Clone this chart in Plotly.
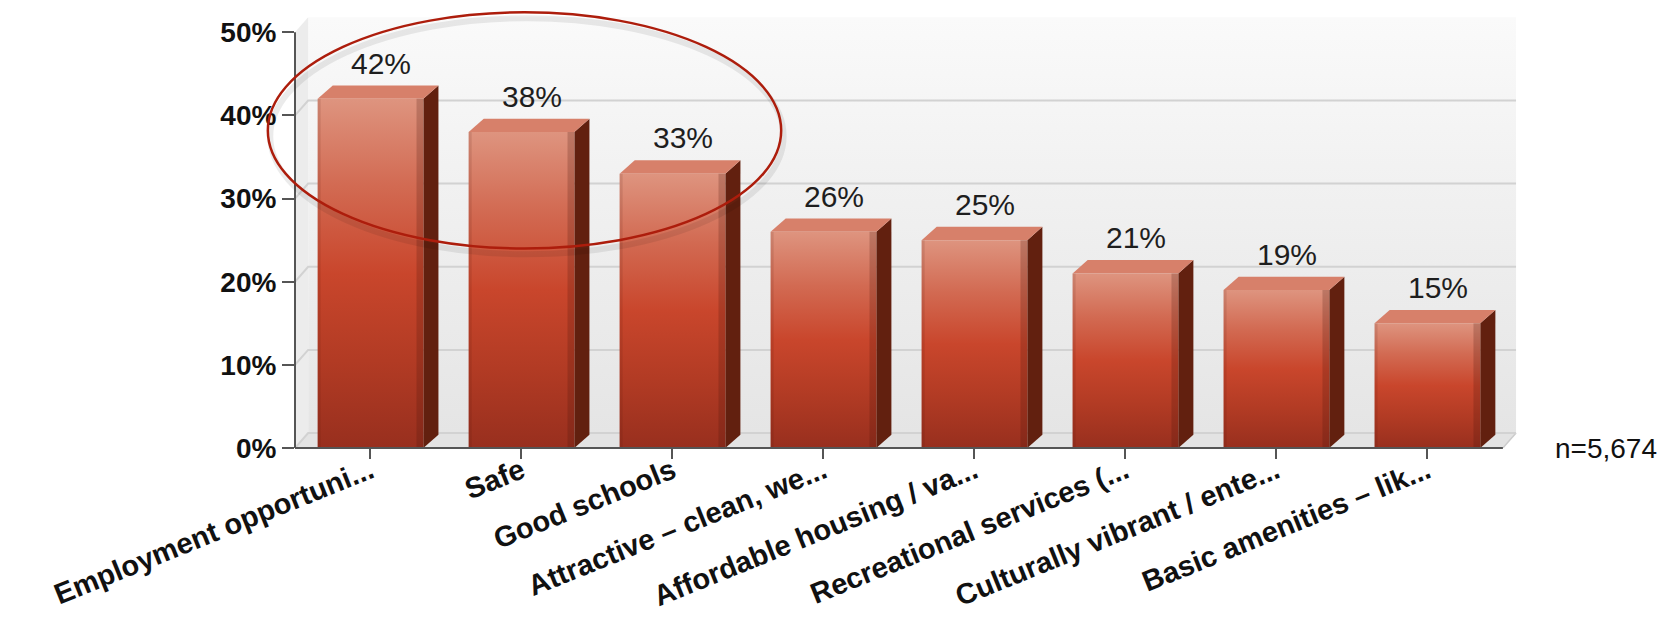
import plotly.graph_objects as go

# ---- data -------------------------------------------------------------
categories = [
    "Employment opportuni...",
    "Safe",
    "Good schools",
    "Attractive \u2013 clean, we...",
    "Affordable housing / va...",
    "Recreational services (...",
    "Culturally vibrant / ente...",
    "Basic amenities \u2013 lik...",
]
values = [42, 38, 33, 26, 25, 21, 19, 15]
y_ticks = [0, 10, 20, 30, 40, 50]
y_tick_labels = [f"{t}%" for t in y_ticks]
sample_note = "n=5,674"
highlight_first, highlight_last = 0, 2   # categories circled by the ellipse

# ---- geometry of the pseudo-3D look (in axis units) --------------------
X_MIN, X_MAX = -0.5, 7.6
Y_MAX = 52.2
HALF = 0.35          # half width of a bar's front face
DX, DY = 0.10, 1.6   # bar depth offset
WDX, WDY = 0.087, 1.8  # wall depth offset
N = len(categories)
x_pos = list(range(N))

FONT = "Liberation Sans, Arial, sans-serif"

fig = go.Figure()


def poly(xs, ys, color=None, gradient=None, line=None):
    kw = dict(
        x=list(xs) + [xs[0]], y=list(ys) + [ys[0]], mode="lines", fill="toself",
        line=line or dict(width=0), hoverinfo="skip", showlegend=False,
    )
    if gradient is not None:
        kw["fillgradient"] = gradient
    else:
        kw["fillcolor"] = color
    fig.add_trace(go.Scatter(**kw))


def seg(xs, ys, color, width):
    fig.add_trace(go.Scatter(x=xs, y=ys, mode="lines", hoverinfo="skip",
                             showlegend=False, line=dict(color=color, width=width)))


left, right = -0.5, N - 0.5
top = y_ticks[-1]

# back wall with a soft vertical gradient
poly([left + WDX, right + WDX, right + WDX, left + WDX],
     [WDY, WDY, top + WDY, top + WDY],
     gradient=dict(type="vertical",
                   colorscale=[[0, "#e5e5e5"], [0.6, "#f1f1f1"], [1, "#fafafa"]]))
# left side wall
poly([left, left + WDX, left + WDX, left], [0, WDY, top + WDY, top], color="#ececec")
# floor
poly([left, right, right + WDX, left + WDX], [0, 0, WDY, WDY], color="#e3e3e3")
seg([right, right + WDX], [0, WDY], "#cccccc", 1.5)

# grid lines on the walls
for t in y_ticks[:-1]:
    seg([left, left + WDX, right + WDX], [t, t + WDY, t + WDY], "#d2d2d2", 2)

# bars: side face, top face, front face
front_scale = [[0, "#982f1e"], [0.25, "#b23b24"], [0.5, "#c9462c"],
               [0.75, "#d26a52"], [1, "#de947f"]]
for i, v in zip(x_pos, values):
    xl, xr = i - HALF, i + HALF
    poly([xr, xr + DX, xr + DX, xr], [0, DY, v + DY, v], color="#62200f")
    poly([xl, xl + DX, xr + DX, xr], [v, v + DY, v + DY, v], color="#d7806a")
    poly([xl, xr, xr, xl], [0, 0, v, v],
         gradient=dict(type="vertical", colorscale=front_scale))
    # soft shading along the edges of the front face
    poly([xr - 0.045, xr, xr, xr - 0.045], [0, 0, v, v], color="rgba(70,18,8,0.22)")
    poly([xl, xl + 0.02, xl + 0.02, xl], [0, 0, v, v], color="rgba(70,18,8,0.12)")

# value labels above each bar
for i, v in zip(x_pos, values):
    fig.add_annotation(x=i + 0.07, y=v + DY, text=f"{v}%", showarrow=False,
                       xanchor="center", yanchor="bottom", yshift=4,
                       font=dict(family=FONT, size=30, color="#1e1e1e"))

# axis lines
fig.add_shape(type="line", xref="paper", yref="y", x0=0, x1=0, y0=0, y1=top,
              line=dict(color="#555555", width=2))
fig.add_shape(type="line", xref="x", yref="paper", x0=left, x1=right, y0=0, y1=0,
              line=dict(color="#555555", width=2))


# ellipse around the top categories
def to_paper(xv, yv):
    return (xv - X_MIN) / (X_MAX - X_MIN), yv / Y_MAX


ex0, ey0 = to_paper(highlight_first - 0.68, 24.0)
ex1, ey1 = to_paper(highlight_last + 0.72, 52.4)
shadow_dy = 0.7 / Y_MAX
fig.add_shape(type="circle", xref="paper", yref="paper",
              x0=ex0 + 0.002, x1=ex1 + 0.002, y0=ey0 - shadow_dy, y1=ey1 - shadow_dy,
              line=dict(color="rgba(0,0,0,0.08)", width=6))
fig.add_shape(type="circle", xref="paper", yref="paper",
              x0=ex0, x1=ex1, y0=ey0, y1=ey1,
              line=dict(color="#ad1d0c", width=2.5))

# sample size note, just right of the axis end
note_x, _ = to_paper(right + 0.33, 0)
fig.add_annotation(x=note_x, xref="paper", y=0, yref="paper", text=sample_note,
                   showarrow=False, xanchor="left", yanchor="middle",
                   font=dict(family=FONT, size=28, color="#111111"))

fig.update_layout(
    width=1666, height=618, autosize=False,
    margin=dict(l=295, r=148, t=14, b=170),
    paper_bgcolor="white", plot_bgcolor="white",
    showlegend=False,
    xaxis=dict(range=[X_MIN, X_MAX], tickvals=x_pos, ticktext=categories,
               tickangle=-22, ticks="outside", ticklen=10, tickwidth=1.5,
               tickcolor="#555555", showgrid=False, zeroline=False, showline=False,
               fixedrange=True, automargin=False, ticklabelstandoff=-16,
               tickfont=dict(family=FONT, size=29, color="#111111", weight="bold")),
    yaxis=dict(range=[0, Y_MAX], tickvals=y_ticks, ticktext=y_tick_labels,
               ticks="outside", ticklen=12, tickwidth=2, tickcolor="#555555",
               showgrid=False, zeroline=False, showline=False, fixedrange=True,
               automargin=False,
               tickfont=dict(family=FONT, size=28, color="#111111", weight="bold")),
)

fig.write_html("out.html")
